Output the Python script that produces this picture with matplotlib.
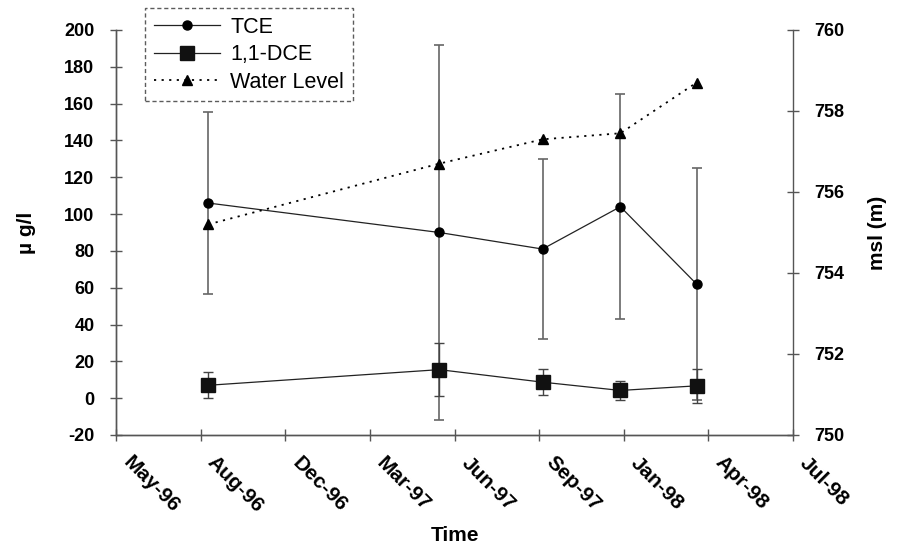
import datetime as dt
import matplotlib
matplotlib.use('Agg')
import matplotlib.pyplot as plt
import matplotlib.dates as mdates

plt.rcParams['font.family'] = ['Liberation Sans', 'DejaVu Sans']
plt.rcParams['axes.unicode_minus'] = False

# %% data
dates = [dt.datetime(1996, 9, 1), dt.datetime(1997, 6, 1), dt.datetime(1997, 10, 1),
         dt.datetime(1998, 1, 1), dt.datetime(1998, 4, 1)]
tce = [106, 90, 81, 104, 62]
tce_err = [49.5, 102, 49, 61, 63]
dce = [7, 15.5, 8.7, 4.2, 6.7]
dce_err = [7, 14.5, 7, 5, 9.3]
water = [755.2, 756.7, 757.3, 757.45, 758.7]

tick_start = dt.datetime(1996, 5, 15)
tick_dates = [tick_start + dt.timedelta(days=100 * i) for i in range(9)]
tick_labels = [d.strftime('%b-%y') for d in tick_dates]

# %% plot
fig = plt.figure(figsize=(8.98, 5.5), dpi=100)
ax = fig.add_axes([0.1292, 0.2091, 0.7539, 0.7364])
ax2 = ax.twinx()

axcol = '#555555'
ax.errorbar(dates, tce, yerr=tce_err, fmt='none', ecolor='#666666', elinewidth=1.2, capsize=3.5, capthick=1.2)
ax.errorbar(dates, dce, yerr=dce_err, fmt='none', ecolor='#444444', elinewidth=1.0, capsize=3.5, capthick=1.0)
l1, = ax.plot(dates, tce, color='#222222', lw=0.9, marker='o', ms=6.5, mfc='black', mec='black', label='TCE')
l2, = ax.plot(dates, dce, color='#222222', lw=0.9, marker='s', ms=10, mfc='#111111', mec='#111111', label='1,1-DCE')
l3, = ax2.plot(dates, water, color='black', lw=1.3, ls=(0, (1.2, 3)), marker='^', ms=7, mfc='black', mec='black',
               label='Water Level')

ax.set_ylim(-20, 200)
ax.set_yticks(range(-20, 201, 20))
ax2.set_ylim(750, 760)
ax2.set_yticks(range(750, 761, 2))
ax.set_xlim(mdates.date2num(tick_dates[0]), mdates.date2num(tick_dates[-1]))
ax.set_xticks(tick_dates)
ax.set_xticklabels([])

for a in (ax, ax2):
    a.spines['top'].set_visible(False)
    for s in a.spines.values():
        s.set_color(axcol)
        s.set_linewidth(1.0)
    a.tick_params(direction='inout', length=9, width=1.0, color=axcol, labelsize=13, pad=11)

ax.spines['right'].set_visible(False)
for lab in ax.get_yticklabels() + ax2.get_yticklabels():
    lab.set_fontweight('bold')

# rotated date labels, offset a little right of each tick
for d, txt in zip(tick_dates, tick_labels):
    ax.annotate(txt, xy=(mdates.date2num(d), 0), xycoords=('data', 'axes fraction'),
                xytext=(12, -13), textcoords='offset points', rotation=-45,
                rotation_mode='anchor', ha='left', va='top', fontsize=15,
                fontweight='bold', annotation_clip=False)

ax.set_ylabel('µ g/l', fontsize=15, fontweight='bold', labelpad=20)
ax2.set_ylabel('msl (m)', fontsize=15, fontweight='bold', labelpad=17)
ax.set_xlabel('Time', fontsize=15, fontweight='bold')
ax.xaxis.set_label_coords(0.5, -0.225)

leg = ax2.legend(handles=[l1, l2, l3], loc='upper left', bbox_to_anchor=(145 / 898, 1 - 8 / 550),
                 bbox_transform=fig.transFigure, fontsize=15.5, frameon=True, fancybox=False,
                 handlelength=3.1, handletextpad=0.45, borderpad=0.4, labelspacing=0.3,
                 borderaxespad=0)
fr = leg.get_frame()
fr.set_linestyle((0, (3, 2)))
fr.set_edgecolor('#333333')
fr.set_linewidth(1.0)

fig.savefig('out.png', dpi=100)
